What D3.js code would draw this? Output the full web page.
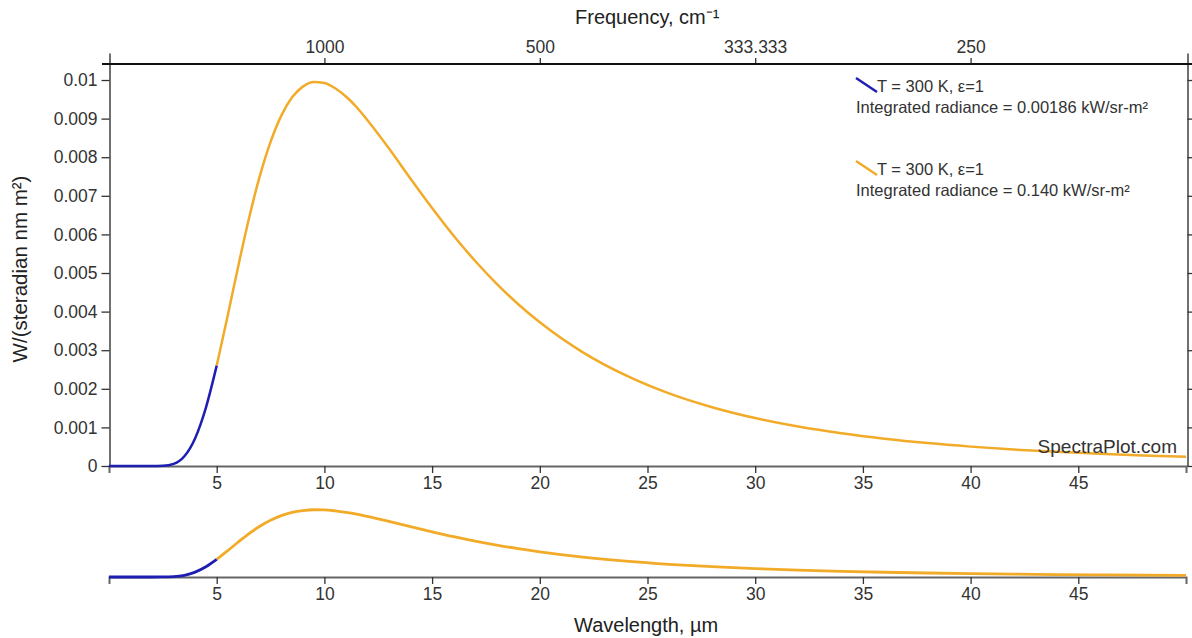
<!DOCTYPE html>
<html><head><meta charset="utf-8">
<script src="https://cdn.jsdelivr.net/npm/d3@7"></script>
<style>
body{margin:0;background:#fff}
svg{display:block}
text{font-family:"Liberation Sans",Arial,sans-serif;fill:#333}
</style>
</head><body>
<svg id="c" width="1192" height="638"></svg>
<script>
// ---- data ----
const wavelengthsBlue = [0, 1, 2, 2.5, 3, 3.5, 4, 4.5, 5];
const radianceBlue = [0, 0, 0.00000014, 0.0000057, 0.0000557, 0.000254, 0.000722, 0.001515, 0.00260];
const wavelengthsOrange = [5, 5.5, 6, 6.5, 7, 7.5, 8, 8.5, 9, 9.5, 10, 10.5, 11, 11.5, 12, 13, 14, 15, 16, 17, 18, 19, 20, 22, 24, 26, 28, 30, 32, 34, 36, 38, 40, 42, 44, 46, 48, 50];
const radianceOrange = [0.00260, 0.003865, 0.005177, 0.00642, 0.007508, 0.008397, 0.009078, 0.009553, 0.009829, 0.009950, 0.009925, 0.009787, 0.009573, 0.009295, 0.008958, 0.008225, 0.007444, 0.006685, 0.005966, 0.005312, 0.004721, 0.004190, 0.003722, 0.002945, 0.002347, 0.001881, 0.001523, 0.0012415, 0.0010208, 0.000846, 0.000706, 0.000593, 0.000502, 0.000427, 0.000366, 0.000315, 0.000272, 0.000237];
const yTicks = [0, 0.001, 0.002, 0.003, 0.004, 0.005, 0.006, 0.007, 0.008, 0.009, 0.01];
const yTickLabels = ["0", "0.001", "0.002", "0.003", "0.004", "0.005", "0.006", "0.007", "0.008", "0.009", "0.01"];
const xTicks = [5, 10, 15, 20, 25, 30, 35, 40, 45];
const freqTicks = [1000, 500, 333.333, 250];
const freqLabels = ["1000", "500", "333.333", "250"];
const legendTitles = ["T = 300 K, \u03b5=1", "T = 300 K, \u03b5=1"];
const legendLines = ["Integrated radiance = 0.00186 kW/sr-m\u00b2", "Integrated radiance = 0.140 kW/sr-m\u00b2"];
const seriesColors = ["#1e1eb2", "#f2ab28"];

// ---- drawing ----
const svg = d3.select("#c");
const x = d3.scaleLinear().domain([0, 50]).range([109, 1186]);
const y = d3.scaleLinear().domain([0, 0.0107]).range([466, 53]);
const y2 = d3.scaleLinear().domain([0, 0.01]).range([577, 509.4]);

const blue = wavelengthsBlue.map((w, i) => [w, radianceBlue[i]]);
const orange = wavelengthsOrange.map((w, i) => [w, radianceOrange[i]]);

function styleAxis(g, fs) {
  g.selectAll("text").style("font-size", fs + "px").style("fill", "#333");
  g.selectAll(".tick line").attr("stroke", "#333").attr("stroke-width", 1.3);
}

// main bottom axis
const gx = svg.append("g").attr("transform", "translate(0,466)")
  .call(d3.axisBottom(x).tickValues(xTicks).tickSize(7).tickSizeOuter(7).tickPadding(4));
gx.select(".domain").attr("stroke", "#666").attr("stroke-width", 2);
styleAxis(gx, 17.5);

// top frequency axis
const gt = svg.append("g").attr("transform", "translate(0,64)")
  .call(d3.axisTop(x).tickValues(freqTicks.map(f => 1e4 / f)).tickSize(6).tickSizeOuter(0).tickPadding(5)
    .tickFormat((d, i) => freqLabels[i]));
gt.select(".domain").remove();
styleAxis(gt, 17.5);
svg.append("line").attr("x1", 102).attr("x2", 1192).attr("y1", 64).attr("y2", 64)
  .attr("stroke", "#111").attr("stroke-width", 2);

// left axis
const gy = svg.append("g").attr("transform", "translate(109.5,0)")
  .call(d3.axisLeft(y).tickValues(yTicks).tickSize(8).tickSizeOuter(0).tickPadding(4)
    .tickFormat((d, i) => yTickLabels[i]));
gy.select(".domain").attr("stroke", "#111").attr("stroke-width", 1.2);
styleAxis(gy, 17.5);

// right axis (no labels)
const gr = svg.append("g").attr("transform", "translate(1187.5,0)")
  .call(d3.axisRight(y).tickValues(yTicks).tickSize(6).tickSizeOuter(0).tickFormat(""));
gr.select(".domain").attr("stroke", "#111").attr("stroke-width", 1.2);
styleAxis(gr, 17.5);

// overview axis
const go = svg.append("g").attr("transform", "translate(0,577)")
  .call(d3.axisBottom(x).tickValues(xTicks).tickSize(7).tickSizeOuter(7).tickPadding(4));
go.select(".domain").attr("stroke", "#666").attr("stroke-width", 2);
styleAxis(go, 17.5);

// curves
const lineMain = d3.line().x(d => x(d[0])).y(d => y(d[1])).curve(d3.curveMonotoneX);
const lineOv = d3.line().x(d => x(d[0])).y(d => y2(d[1])).curve(d3.curveMonotoneX);
[[orange, 1], [blue, 0]].forEach(([data, ci]) => {
  svg.append("path").datum(data).attr("d", lineMain).attr("fill", "none")
    .attr("stroke", seriesColors[ci]).attr("stroke-width", 2.5);
  svg.append("path").datum(data).attr("d", lineOv).attr("fill", "none")
    .attr("stroke", seriesColors[ci]).attr("stroke-width", 2.8);
});

// axis titles
svg.append("text").attr("x", 575).attr("y", 24).style("font-size", "20px").style("fill", "#222")
  .text("Frequency, cm\u207b\u00b9");
svg.append("text").attr("x", 574).attr("y", 632).style("font-size", "20px").style("fill", "#222")
  .text("Wavelength, \u00b5m");
svg.append("text").attr("transform", "translate(27,269) rotate(-90)").attr("text-anchor", "middle")
  .style("font-size", "20.5px").style("fill", "#222").text("W/(steradian nm m\u00b2)");

// legend
const legendTops = [78, 161];
legendTops.forEach((t, i) => {
  svg.append("line").attr("x1", 856).attr("y1", t).attr("x2", 877).attr("y2", t + 14)
    .attr("stroke", seriesColors[i]).attr("stroke-width", 2.5);
  svg.append("text").attr("x", 877).attr("y", t + 14).style("font-size", "16.5px").style("fill", "#333")
    .text(legendTitles[i]);
  svg.append("text").attr("x", 856).attr("y", t + 35).style("font-size", "16.5px").style("fill", "#333")
    .text(legendLines[i]);
});

// watermark
svg.append("text").attr("x", 1177).attr("y", 453).attr("text-anchor", "end")
  .style("font-size", "19px").style("fill", "#333").text("SpectraPlot.com");
</script>
</body></html>
